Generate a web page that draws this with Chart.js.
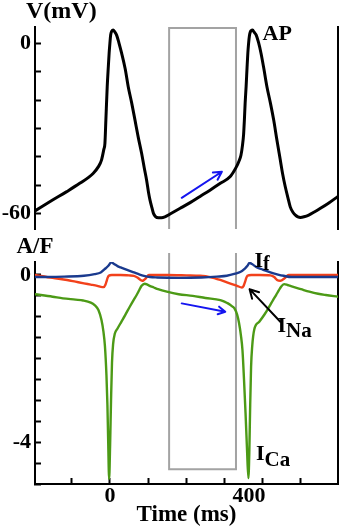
<!DOCTYPE html>
<html><head><meta charset="utf-8">
<script src="https://cdn.jsdelivr.net/npm/chart.js@4"></script>
<style>
html,body{margin:0;padding:0;background:#fff;}
#wrap{position:relative;width:340px;height:532px;overflow:hidden;background:#fff;}
canvas{position:absolute;left:0;}
.t{position:absolute;font-family:"Liberation Serif","Times New Roman",serif;font-weight:bold;line-height:1;white-space:nowrap;color:#000;}
.t span{line-height:1;position:relative;}
</style></head><body>
<div id="wrap">
<canvas id="cTop" width="340" height="236" style="top:0"></canvas>
<canvas id="cBot" width="340" height="296" style="top:236px"></canvas>
<div class="t" style="left:26px;top:-2px;font-size:24px">V(mV)</div>
<div class="t" style="left:262.5px;top:21.5px;font-size:22px">AP</div>
<div class="t" style="left:16.5px;top:233.5px;font-size:23px">A/F</div>
<div class="t" style="left:254.5px;top:248.5px;font-size:22px">I<span style="font-size:20px;top:3px">f</span></div>
<div class="t" style="left:277.5px;top:313.5px;font-size:22px">I<span style="font-size:21px;top:5px">Na</span></div>
<div class="t" style="left:256px;top:441.5px;font-size:22px">I<span style="font-size:21px;top:6px">Ca</span></div>
</div>
<script>
// ---------- data (time in ms) ----------
const timeAP = [-196,-150,-114,-79,-44,-30,-22,-16,-13,-10.5,-7,-4,-2,0,2,5,8.7,12,17.6,24,30.7,40,48,57,65.6,74,83,90,96,101,105,110,114,120,127,135,144,157.5,184,210,236,262,289,315,331,338,343,347,350,352,354,356.5,359,361,363,365,367,370,373.5,377,383,389,395.5,403,411,420,428.6,437,446,452,459,466,472,479,485.6,492,498.7,508,520.5,535,551,573,597];
const voltageAP = [-59.1,-55.3,-52.4,-49.4,-45.9,-43.5,-41.2,-37.5,-35.3,-27,-15.3,-8,-3.5,0,2.9,4.3,4.7,4.2,2.9,0,-3.5,-9,-15.3,-21,-27,-33,-38.8,-44,-48.2,-52.5,-55.3,-58,-60,-61.2,-61.5,-61.5,-61.2,-60.2,-58.2,-56.2,-54,-51.8,-49.4,-47,-43.6,-41.5,-39.5,-36,-32,-27,-21,-15.3,-8.5,-3.5,0,2.5,3.8,4.5,4.7,4.0,2.9,0.3,-3.5,-9,-15.3,-21,-27,-34,-41.2,-46,-50.6,-54.5,-57.7,-59.6,-60.6,-61.2,-61.4,-61.2,-60.6,-59.5,-58.2,-56.3,-54];

const timeIf = [-196,-120,-68,-40,-24,-11,-4,3.5,10,20,28,45,63,78,89,105,124,180,240,280,306,328,341,354,360,365.6,372,385,400,420,440,455,475,499,597];
const currentIf = [-0.05,-0.04,-0.02,0.02,0.06,0.16,0.22,0.3,0.27,0.21,0.18,0.12,0.06,0.01,-0.02,-0.05,-0.06,-0.07,-0.06,-0.04,-0.02,0.03,0.07,0.16,0.22,0.29,0.26,0.18,0.13,0.06,0.01,-0.02,-0.05,-0.05,-0.05];

const timeINa = [-196,-150,-112,-90,-68,-50,-33,-20,-16,-12,-9,-6,-3,5,28,50,63,72,80.5,85,89,94,102,150,200,236,262,289,310,332.5,345.6,350,354,357,360,370,392,420,430,437.5,446,451,457,468,597];
const currentINa = [0,-0.07,-0.12,-0.16,-0.2,-0.23,-0.26,-0.29,-0.29,-0.24,-0.16,-0.07,-0.02,0,0,-0.01,-0.02,-0.06,-0.12,-0.14,-0.12,-0.08,0,0,-0.01,-0.02,-0.05,-0.12,-0.19,-0.26,-0.3,-0.26,-0.16,-0.07,-0.02,0,0,-0.01,-0.05,-0.12,-0.14,-0.12,-0.08,0,0];

const timeICa = [-196,-150,-123,-90,-70,-50,-40,-30,-22,-17,-13,-9,-6.5,-4.4,-2,0.5,3,5.5,8.5,13,20,30,40,52,62,70,77,83,91,98,104,115,126,149,180,217,250,289,300,309,320,326,333,338,343,347,351,355,359,362.5,365,367,369.5,372.5,378,391,405,417,427,435,442,448,456,465,478,500,522,545,565,597];
const currentICa = [-0.46,-0.52,-0.56,-0.59,-0.61,-0.66,-0.72,-0.84,-1.08,-1.35,-1.7,-2.4,-3.1,-4.0,-4.88,-4.1,-3.0,-2.1,-1.65,-1.4,-1.28,-1.12,-0.96,-0.76,-0.6,-0.48,-0.36,-0.26,-0.21,-0.23,-0.26,-0.3,-0.34,-0.4,-0.46,-0.5,-0.55,-0.6,-0.64,-0.68,-0.75,-0.8,-0.95,-1.15,-1.45,-1.8,-2.5,-3.3,-4.2,-4.86,-4.2,-3.2,-2.2,-1.7,-1.3,-1.12,-0.94,-0.76,-0.6,-0.48,-0.37,-0.28,-0.22,-0.24,-0.28,-0.34,-0.4,-0.45,-0.48,-0.52];

// analysed window (ms) and its vertical extent in each panel
const windowTime = [155, 330];
const windowVoltage = [5.4, -65.5];
const windowCurrent = [0.525, -4.65];

// arrows: [fromTime, fromValue, toTime, toValue]
const arrowsAP = [[188, -54.5, 293, -45.3]];
const arrowsCurrentBlue = [[188, -0.68, 302, -0.88]];
const arrowsCurrentBlack = [[446, -1.12, 365.6, -0.34]];

// axes
const timeRange = [-196, 597];
const timeTickStep = 100;
const timeTickLabelTexts = ['0', '400'];
const timeTickLabelValues = [0, 364];
const voltageRange = [-65.5, 5.75];
const voltageTickStep = 10;
const voltageTickLabels = { '0': '0', '-60': '-60' };
const currentRange = [-5, 0.31];
const currentTickStep = 0.5;
const currentTickLabels = { '0': '0', '-4': '-4' };

// ---------- helpers ----------
const FONT = 'Liberation Serif';
const pts = (xs, ys) => xs.map((x, i) => ({x: x, y: ys[i]}));
const rectPts = (t, v) => [{x:t[0],y:v[1]},{x:t[0],y:v[0]},{x:t[1],y:v[0]},{x:t[1],y:v[1]}];
const rectClosed = (t, v) => [{x:t[0],y:v[0]},{x:t[0],y:v[1]},{x:t[1],y:v[1]},{x:t[1],y:v[0]}];

function arrowPlugin(list) {
  return {
    id: 'arrows',
    afterDatasetsDraw(chart) {
      const ctx = chart.ctx, xs = chart.scales.x, ys = chart.scales.y;
      list.forEach(a => {
        const [t1, v1, t2, v2, color, head] = a;
        const x1 = xs.getPixelForValue(t1), y1 = ys.getPixelForValue(v1);
        const x2 = xs.getPixelForValue(t2), y2 = ys.getPixelForValue(v2);
        const ang = Math.atan2(y2 - y1, x2 - x1), w = 0.5;
        ctx.save();
        ctx.strokeStyle = color; ctx.lineWidth = 2; ctx.lineCap = 'round'; ctx.lineJoin = 'round';
        ctx.beginPath();
        ctx.moveTo(x1, y1); ctx.lineTo(x2, y2);
        ctx.moveTo(x2 - head * Math.cos(ang - w), y2 - head * Math.sin(ang - w));
        ctx.lineTo(x2, y2);
        ctx.lineTo(x2 - head * Math.cos(ang + w), y2 - head * Math.sin(ang + w));
        ctx.stroke();
        ctx.restore();
      });
    }
  };
}

const lineDs = (data, color, width) => ({
  data: data, borderColor: color, borderWidth: width, pointRadius: 0,
  fill: false, cubicInterpolationMode: 'monotone', borderCapStyle: 'round', borderJoinStyle: 'round'
});
const rectDs = (data) => ({
  data: data, borderColor: '#a3a3a3', borderWidth: 2, pointRadius: 0, fill: false, tension: 0, clip: 14
});

const rightBorder = {
  position: 'right', min: 0, max: 1,
  ticks: { display: false }, grid: { display: false, drawTicks: false },
  border: { display: true, color: '#000', width: 2 },
  afterFit(s) { s.width = 0; s.paddingTop = 0; s.paddingBottom = 0; }
};

function yAxis(range, step, labels) {
  return {
    type: 'linear', position: 'left', min: range[0], max: range[1],
    afterFit(s) { s.width = 35; s.paddingTop = 0; s.paddingBottom = 0; },
    border: { display: true, color: '#000', width: 2 },
    grid: { drawOnChartArea: false, drawTicks: true, tickLength: -6, tickColor: '#000', tickWidth: 2 },
    ticks: {
      stepSize: step, includeBounds: false, autoSkip: false, padding: 10, color: '#000',
      font: { family: FONT, size: 22, weight: 'bold' },
      callback: (v) => { const k = String(Math.round(v * 1000) / 1000); return labels[k] !== undefined ? labels[k] : ''; }
    }
  };
}

Chart.defaults.animation = false;

// ---------- top panel: action potential ----------
new Chart(document.getElementById('cTop'), {
  type: 'line',
  data: { datasets: [
    lineDs(pts(timeAP, voltageAP), '#000', 3),
    rectDs(rectPts(windowTime, windowVoltage))
  ]},
  options: {
    responsive: false, animation: false, events: [],
    layout: { padding: { left: 0, right: 2, top: 27, bottom: 7 } },
    plugins: { legend: { display: false }, tooltip: { enabled: false } },
    scales: {
      x: { type: 'linear', min: timeRange[0], max: timeRange[1], display: false },
      y: yAxis(voltageRange, voltageTickStep, voltageTickLabels),
      y2: rightBorder
    }
  },
  plugins: [arrowPlugin(arrowsAP.map(a => a.concat(['#1515f0', 9])))]
});

// ---------- bottom panel: currents ----------
new Chart(document.getElementById('cBot'), {
  type: 'line',
  data: { datasets: [
    lineDs(pts(timeIf, currentIf), '#1a3a8e', 2.4),
    lineDs(pts(timeINa, currentINa), '#f2411b', 2.4),
    lineDs(pts(timeICa, currentICa), '#4c9a16', 2.4),
    rectDs(rectClosed(windowTime, windowCurrent))
  ]},
  options: {
    responsive: false, animation: false, events: [],
    layout: { padding: { left: 0, right: 2, top: 26, bottom: 0 } },
    plugins: { legend: { display: false }, tooltip: { enabled: false } },
    scales: {
      x: {
        type: 'linear', position: 'bottom', min: timeRange[0], max: timeRange[1],
        afterFit(s) { s.height = 48; },
        afterBuildTicks(s) {
          const vals = [];
          for (let v = -100; v <= 500; v += timeTickStep) vals.push(v);
          timeTickLabelValues.forEach(v => { if (!vals.includes(v)) vals.push(v); });
          vals.sort((a, b) => a - b);
          s.ticks = vals.map(v => ({ value: v }));
        },
        border: { display: true, color: '#000', width: 2 },
        grid: {
          drawOnChartArea: false, drawTicks: true, tickLength: -6, tickWidth: 2,
          tickColor: (c) => (c.tick && c.tick.value % timeTickStep !== 0) ? 'rgba(0,0,0,0)' : '#000'
        },
        ticks: {
          autoSkip: false, maxRotation: 0, minRotation: 0, padding: 5, color: '#000',
          font: { family: FONT, size: 22, weight: 'bold' },
          callback: (v) => { const i = timeTickLabelValues.indexOf(v); return i >= 0 ? timeTickLabelTexts[i] : ''; }
        },
        title: { display: true, text: 'Time (ms)', color: '#000', padding: { top: 0, bottom: 3 },
          font: { family: FONT, size: 23, weight: 'bold' } }
      },
      y: yAxis(currentRange, currentTickStep, currentTickLabels),
      y2: rightBorder
    }
  },
  plugins: [arrowPlugin(
    arrowsCurrentBlue.map(a => a.concat(['#1515f0', 8])).concat(
    arrowsCurrentBlack.map(a => a.concat(['#000', 10]))))]
});
</script>
</body></html>
